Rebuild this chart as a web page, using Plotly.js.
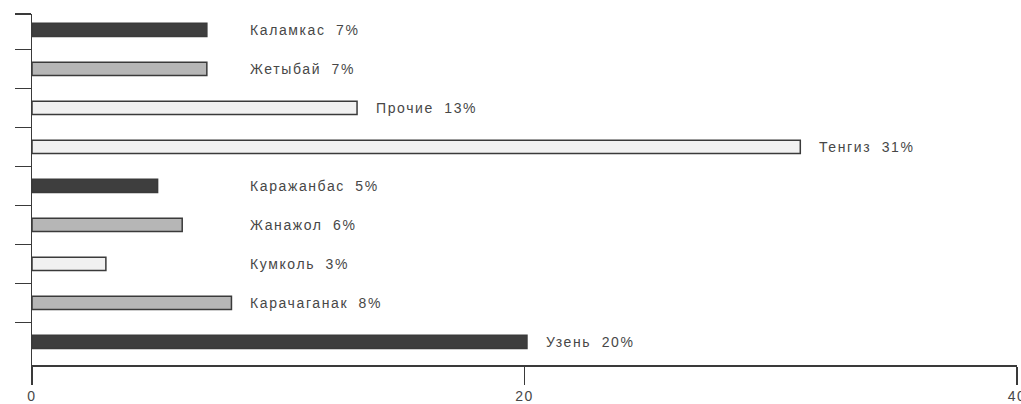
<!DOCTYPE html>
<html>
<head>
<meta charset="utf-8">
<script src="https://cdn.plot.ly/plotly-3.0.1.min.js"></script>
<style>
  html, body { margin: 0; padding: 0; background: #ffffff; }
  #chart { width: 1021px; height: 404px; }
  .annotation-text { letter-spacing: 1.6px; word-spacing: 5px; }
  .xtick text { letter-spacing: 1.5px; }
</style>
</head>
<body>
<div id="chart"></div>
<script>
// ---- data ----
const categories = ['Каламкас', 'Жетыбай', 'Прочие', 'Тенгиз', 'Каражанбас', 'Жанажол', 'Кумколь', 'Карачаганак', 'Узень'];
const values = [7.1, 7.1, 13.2, 31.2, 5.1, 6.1, 3.0, 8.1, 20.1];
const percentLabels = [7, 7, 13, 31, 5, 6, 3, 8, 20];
const xTickVals = [0, 20, 40];
const xTickText = ['0', '20', '40'];

// ---- styles ----
const shadeOf = ['dark', 'medium', 'light', 'light', 'dark', 'medium', 'light', 'medium', 'dark'];
const shadeColors = { dark: '#3e3e3e', medium: '#b6b6b6', light: '#f1f1f1' };
const inkColor = '#3a3a3a';
const textColor = '#474747';
const labelMinX = 8.1;   // short bars share one label column
const yTop = -0.41, yBottom = 8.59;

const barColors = shadeOf.map(s => shadeColors[s]);
const boundaryTicks = [yTop].concat(categories.slice(0, -1).map((c, i) => i + 0.5));

const trace = {
  type: 'bar',
  orientation: 'h',
  y: categories,
  x: values,
  width: 0.34,
  marker: { color: barColors, line: { color: inkColor, width: 1.5 } },
  hoverinfo: 'y+x'
};

const annotations = categories.map((c, i) => ({
  x: Math.max(values[i], labelMinX),
  y: c,
  xref: 'x', yref: 'y',
  text: c + ' ' + percentLabels[i] + '%',
  showarrow: false,
  xanchor: 'left',
  yanchor: 'middle',
  xshift: 17,
  font: { family: 'Liberation Sans, Arial, sans-serif', size: 14, color: textColor }
}));

const layout = {
  width: 1021,
  height: 404,
  margin: { l: 32, r: 4, t: 14, b: 39 },
  paper_bgcolor: '#ffffff',
  plot_bgcolor: '#ffffff',
  showlegend: false,
  font: { family: 'Liberation Sans, Arial, sans-serif', size: 14, color: textColor },
  xaxis: {
    range: [0, 40],
    tickmode: 'array',
    tickvals: xTickVals,
    ticktext: xTickText,
    ticks: 'outside',
    ticklen: 18,
    tickwidth: 1.5,
    tickcolor: inkColor,
    ticklabeloverflow: 'allow',
    showline: true,
    linecolor: inkColor,
    linewidth: 1.5,
    showgrid: false,
    zeroline: false,
    tickfont: { size: 14, color: textColor }
  },
  yaxis: {
    type: 'category',
    categoryorder: 'array',
    categoryarray: categories,
    range: [yBottom, yTop],
    autorange: false,
    tickmode: 'array',
    tickvals: boundaryTicks,
    ticktext: boundaryTicks.map(() => ''),
    ticks: 'outside',
    ticklen: 16,
    tickwidth: 1.5,
    tickcolor: inkColor,
    showline: true,
    linecolor: inkColor,
    linewidth: 1.5,
    showgrid: false,
    zeroline: false
  },
  annotations: annotations
};

Plotly.newPlot('chart', [trace], layout, { displayModeBar: false, staticPlot: true });
</script>
</body>
</html>
